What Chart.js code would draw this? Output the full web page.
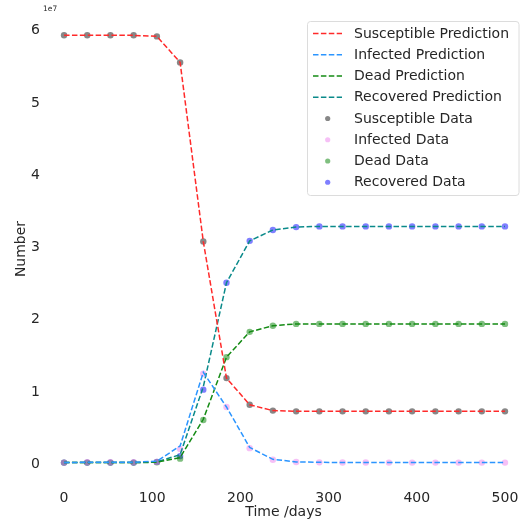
<!DOCTYPE html>
<html>
<head>
<meta charset="utf-8">
<script src="https://cdn.jsdelivr.net/npm/chart.js@4.4.1/dist/chart.umd.min.js"></script>
<style>
html,body{margin:0;padding:0;background:#fff;}
#wrap{position:relative;width:525px;height:524px;}
</style>
</head>
<body>
<div id="wrap"><canvas id="c" width="525" height="524"></canvas></div>
<script>
// Time points (days)
const days = [0, 26.3, 52.6, 78.9, 105.3, 131.6, 157.9, 184.2, 210.5, 236.8, 263.2, 289.5, 315.8, 342.1, 368.4, 394.7, 421.1, 447.4, 473.7, 500];
// Values in units of 1e7
const susceptibleData = [5.915, 5.915, 5.915, 5.915, 5.90, 5.54, 3.06, 1.17, 0.80, 0.72, 0.71, 0.71, 0.71, 0.71, 0.71, 0.71, 0.71, 0.71, 0.71, 0.71];
const infectedData    = [0.0, 0.005, 0.005, 0.005, 0.01, 0.19, 1.23, 0.77, 0.20, 0.04, 0.008, 0.004, 0.002, 0.001, 0.0, 0.0, 0.0, 0.0, 0.0, 0.0];
const deadData        = [0.0, 0.0, 0.0, 0.0, 0.005, 0.055, 0.59, 1.46, 1.81, 1.895, 1.92, 1.92, 1.92, 1.92, 1.92, 1.92, 1.92, 1.92, 1.92, 1.92];
const recoveredData   = [0.0, 0.0, 0.0, 0.0, 0.01, 0.09, 1.01, 2.49, 3.07, 3.22, 3.26, 3.27, 3.27, 3.27, 3.27, 3.27, 3.27, 3.27, 3.27, 3.27];
const susceptiblePred = [5.915, 5.915, 5.915, 5.915, 5.90, 5.54, 3.06, 1.17, 0.80, 0.72, 0.71, 0.71, 0.71, 0.71, 0.71, 0.71, 0.71, 0.71, 0.71, 0.71];
const infectedPred    = [0.0, 0.005, 0.005, 0.005, 0.02, 0.23, 1.25, 0.77, 0.21, 0.045, 0.01, 0.004, 0.002, 0.001, 0.0, 0.0, 0.0, 0.0, 0.0, 0.0];
const deadPred        = [0.0, 0.0, 0.0, 0.0, 0.005, 0.07, 0.60, 1.46, 1.81, 1.895, 1.92, 1.92, 1.92, 1.92, 1.92, 1.92, 1.92, 1.92, 1.92, 1.92];
const recoveredPred   = [0.0, 0.0, 0.0, 0.0, 0.01, 0.11, 1.05, 2.49, 3.07, 3.22, 3.26, 3.27, 3.27, 3.27, 3.27, 3.27, 3.27, 3.27, 3.27, 3.27];
const xTicks = [0, 100, 200, 300, 400, 500];
const yTicks = [0, 1, 2, 3, 4, 5, 6];
const SCALE = 1e7;

const pts = arr => arr.map((v, i) => ({x: days[i], y: v * SCALE}));
const FONT = "'DejaVu Sans', sans-serif";
const DASH = [5.5, 2.4];

const lineDs = (label, arr, color) => ({
  label, data: pts(arr), showLine: true, borderColor: color, borderWidth: 1.5,
  borderDash: DASH, pointRadius: 0, pointHoverRadius: 0, fill: false, tension: 0, kind: 'line'
});
const dotDs = (label, arr, color) => ({
  label, data: pts(arr), showLine: false, backgroundColor: color, borderColor: color,
  borderWidth: 0, pointRadius: 3.2, pointHoverRadius: 3.2, kind: 'dot'
});

const datasets = [
  lineDs('Susceptible Prediction', susceptiblePred, '#ff2a2a'),
  lineDs('Infected Prediction', infectedPred, '#2b95ff'),
  lineDs('Dead Prediction', deadPred, '#138a13'),
  lineDs('Recovered Prediction', recoveredPred, '#0a8a8a'),
  dotDs('Susceptible Data', susceptibleData, 'rgba(70,70,70,0.65)'),
  dotDs('Infected Data', infectedData, 'rgba(238,130,238,0.5)'),
  dotDs('Dead Data', deadData, 'rgba(0,128,0,0.5)'),
  dotDs('Recovered Data', recoveredData, 'rgba(0,0,255,0.5)')
];

const extras = {
  id: 'extras',
  afterDraw(chart) {
    const ctx = chart.ctx;
    ctx.save();
    // offset text
    ctx.fillStyle = '#262626';
    ctx.font = "7.5px " + FONT;
    ctx.textAlign = 'left';
    ctx.textBaseline = 'middle';
    ctx.fillText('1e7', 43, 9.5);
    // legend
    const bx = 307.5, by = 21.5, bw = 211.5, bh = 174;
    ctx.beginPath();
    ctx.roundRect(bx, by, bw, bh, 3);
    ctx.fillStyle = 'rgba(255,255,255,0.8)';
    ctx.fill();
    ctx.strokeStyle = '#dcdcdc';
    ctx.lineWidth = 1;
    ctx.stroke();
    const ds = chart.data.datasets;
    ds.forEach((d, i) => {
      const y = 33.5 + i * 21.25;
      if (d.kind === 'line') {
        ctx.beginPath();
        ctx.setLineDash(DASH);
        ctx.strokeStyle = d.borderColor;
        ctx.lineWidth = 1.5;
        ctx.moveTo(313, y);
        ctx.lineTo(342, y);
        ctx.stroke();
        ctx.setLineDash([]);
      } else {
        ctx.beginPath();
        ctx.fillStyle = d.backgroundColor;
        ctx.arc(327.7, y, 2.6, 0, Math.PI * 2);
        ctx.fill();
      }
      ctx.fillStyle = '#262626';
      ctx.font = "14px " + FONT;
      ctx.textAlign = 'left';
      ctx.textBaseline = 'middle';
      ctx.fillText(d.label, 354, y + 0.5);
    });
    ctx.restore();
  }
};

new Chart(document.getElementById('c'), {
  type: 'scatter',
  data: { datasets },
  options: {
    responsive: false,
    animation: false,
    events: [],
    layout: { autoPadding: false, padding: { top: 14, right: 0, left: 0, bottom: 0 } },
    plugins: { legend: { display: false }, tooltip: { enabled: false } },
    scales: {
      x: {
        type: 'linear', min: -25, max: 522.7,
        afterBuildTicks: s => { s.ticks = xTicks.map(v => ({value: v})); },
        grid: { display: false, drawTicks: false },
        border: { display: false },
        ticks: { color: '#262626', font: { family: FONT, size: 14 }, padding: 6, maxRotation: 0, callback: v => String(v) },
        title: { display: true, text: 'Time /days', color: '#262626', font: { family: FONT, size: 14 }, padding: { top: 0, bottom: 3 } },
        afterFit: s => { s.height = 40; }
      },
      y: {
        type: 'linear', min: -0.296 * SCALE, max: 6.21 * SCALE,
        afterBuildTicks: s => { s.ticks = yTicks.map(v => ({value: v * SCALE})); },
        grid: { display: false, drawTicks: false },
        border: { display: false },
        ticks: { color: '#262626', font: { family: FONT, size: 14 }, padding: 2, labelOffset: 1.5, callback: v => String(Math.round(v / SCALE)) },
        title: { display: true, text: 'Number', color: '#262626', font: { family: FONT, size: 14 }, padding: { top: 13, bottom: 0 } },
        afterFit: s => { s.width = 42; }
      }
    }
  },
  plugins: [extras]
});
</script>
</body>
</html>
